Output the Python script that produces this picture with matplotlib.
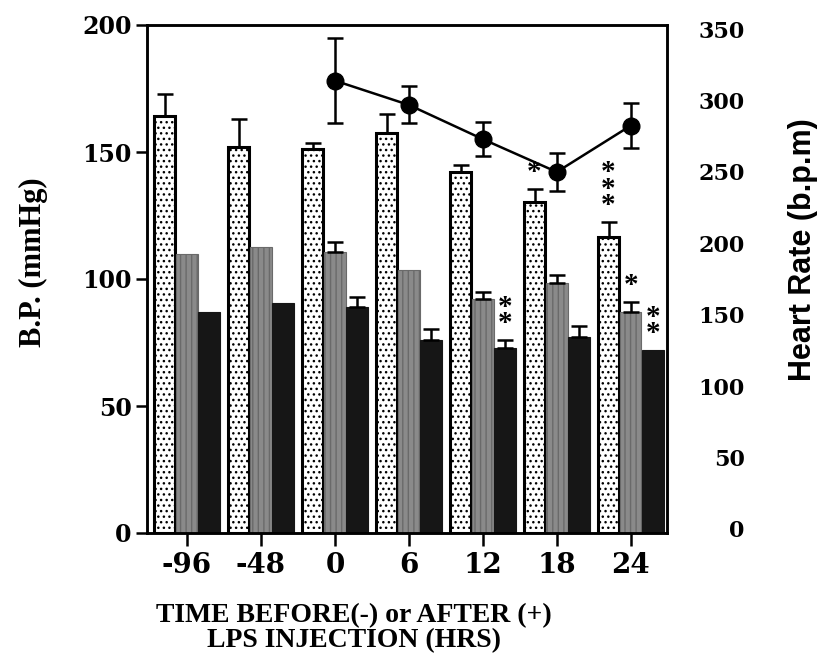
import numpy as np
import matplotlib
matplotlib.use("Agg")
import matplotlib.pyplot as plt

# time points (hrs before/after LPS)
times = ["-96", "-48", "0", "6", "12", "18", "24"]

# blood pressure (mmHg): dotted, grey, black bars
bp_dotted = [164, 152, 151, 157.5, 142, 130.5, 116.5]
bp_dotted_err = [9, 11, 2.5, 7.5, 3, 5, 6]
bp_grey = [110, 112.5, 110.5, 103.5, 92, 98.5, 87]
bp_grey_err = [0, 0, 4, 0, 3, 3, 4]
bp_black = [87, 90.5, 89, 76, 73, 77, 72]
bp_black_err = [0, 0, 4, 4.5, 3, 4.5, 0]

# heart rate (b.p.m), only from 0 hrs onward
hr_times = ["0", "6", "12", "18", "24"]
hr = [314, 297, 273, 250, 282.5]
hr_err = [30, 13, 12, 13, 16]

# significance marks: (time, series, text)
stars = [("18", "dotted", "*"), ("24", "dotted", "*\n*\n*"), ("24", "grey", "*"),
         ("12", "black", "*\n*"), ("24", "black", "*\n*")]

serif = "Liberation Serif"
num = "DejaVu Serif"
sans = "Liberation Sans"

fig = plt.figure(figsize=(8.19, 6.71), dpi=100)
ax = fig.add_axes([147/819, 1-533/671, (667-147)/819, (533-25)/671])

x = np.arange(len(times))
w = 0.29
off = {"dotted": -0.3, "grey": 0.0, "black": 0.3}
vals = {"dotted": (bp_dotted, bp_dotted_err), "grey": (bp_grey, bp_grey_err),
        "black": (bp_black, bp_black_err)}

ax.bar(x + off["dotted"], bp_dotted, w, facecolor="white", edgecolor="black",
       linewidth=2.2, hatch="...", zorder=2)
ax.bar(x + off["grey"], bp_grey, w, facecolor="#8a8a8a", edgecolor="#6a6a6a",
       linewidth=0.8, hatch="|||", zorder=2)
ax.bar(x + off["black"], bp_black, w, facecolor="#161616", edgecolor="#161616",
       linewidth=0.8, zorder=2)

for key in ["dotted", "grey", "black"]:
    v, e = vals[key]
    v = np.array(v); e = np.array(e)
    m = e > 0
    ax.errorbar(x[m] + off[key], v[m], yerr=[np.zeros(m.sum()), e[m]], fmt="none",
                ecolor="black", elinewidth=1.8, capsize=5.5, capthick=1.8, zorder=3)

for t, key, s in stars:
    i = times.index(t)
    v, e = vals[key]
    ax.annotate(s, (i + off[key], v[i] + e[i]), xytext=(0, 2), textcoords="offset points",
                ha="center", va="bottom", fontsize=21, fontweight="bold",
                family=serif, linespacing=0.5, zorder=4)

ax.set_xlim(-0.54, 6.49)
ax.set_ylim(0, 200)
ax.set_yticks([0, 50, 100, 150, 200])
ax.set_xticks(x)
ax.set_xticklabels(times)
ax.tick_params(axis="x", direction="out", length=9, width=1.8, pad=5, labelsize=20)
ax.tick_params(axis="y", direction="out", length=8, width=1.8, pad=3, labelsize=17)
for lab in ax.get_xticklabels() + ax.get_yticklabels():
    lab.set_family(num)
    lab.set_fontweight("bold")
for sp in ax.spines.values():
    sp.set_linewidth(1.8)

# heart rate on right axis
ax2 = ax.twinx()
hx = [times.index(t) for t in hr_times]
ax2.plot(hx, hr, color="black", linewidth=1.8, marker="o", markersize=12, zorder=5)
ax2.errorbar(hx, hr, yerr=hr_err, fmt="none", ecolor="black", elinewidth=1.8,
             capsize=5.5, capthick=1.8, zorder=5)
ax2.set_ylim(-3, 353)
ax2.set_yticks([0, 50, 100, 150, 200, 250, 300, 350])
ax2.tick_params(axis="y", length=0, pad=56, labelsize=16)
for lab in ax2.get_yticklabels():
    lab.set_family(num)
    lab.set_fontweight("bold")
    lab.set_horizontalalignment("right")
for sp in ax2.spines.values():
    sp.set_linewidth(1.8)

fig.text(33/819, 1-262/671, "B.P. (mmHg)", rotation=90, ha="center", va="center",
         fontsize=22, fontweight="bold", family=serif)
fig.text(803/819, 1-250/671, "Heart Rate (b.p.m)", rotation=90, ha="center", va="center",
         fontsize=22, fontweight="bold", family=sans)
fig.text(354/819, 1-628/671, "TIME BEFORE(-) or AFTER (+)\nLPS INJECTION (HRS)",
         ha="center", va="center", fontsize=20, fontweight="bold", family=serif,
         linespacing=1.0)

fig.savefig("out.png", dpi=100)
